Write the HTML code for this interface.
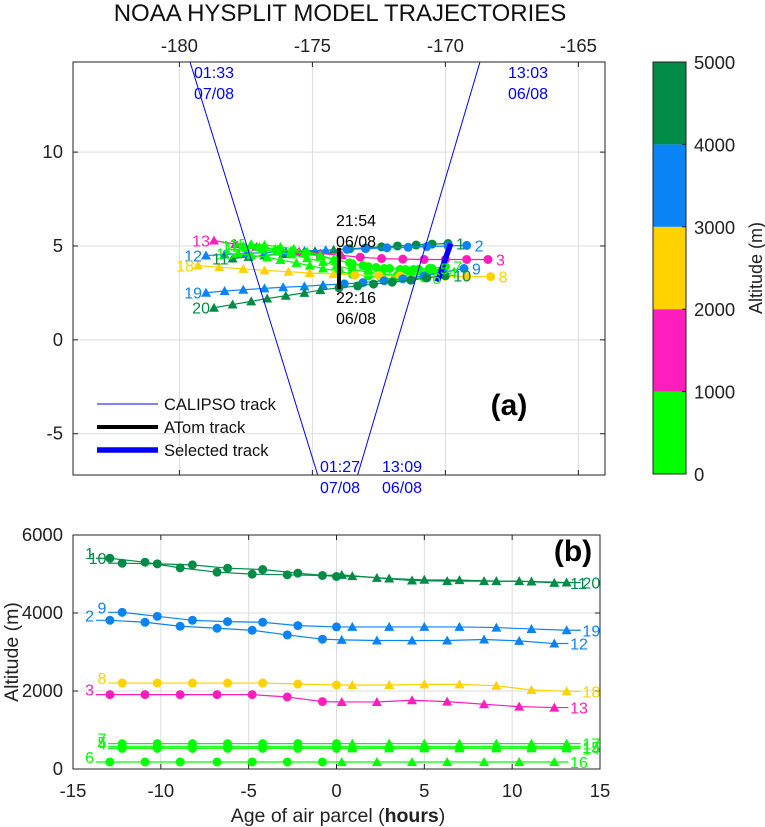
<!DOCTYPE html>
<html><head><meta charset="utf-8"><style>
html,body{margin:0;padding:0;background:#fff;}
svg{display:block;font-family:"Liberation Sans",Arial,sans-serif;}
</style></head><body>
<svg id="fig" width="765" height="827" viewBox="0 0 765 827" xmlns="http://www.w3.org/2000/svg">
<text x="340" y="21" font-size="24" text-anchor="middle" fill="#111">NOAA HYSPLIT MODEL TRAJECTORIES</text>
<g id="pa"></g>
<g id="pb"></g>
<g id="cb"></g>
</svg>
<script>
// ---------- data ----------
const lonTicks = [-180, -175, -170, -165];
const latTicks = [10, 5, 0, -5];
const altBands = [0, 1000, 2000, 3000, 4000, 5000];
const bandColors = ["#00ff00", "#ff1dbe", "#ffd200", "#0a84f5", "#008c46"];
const calipsoLeftLon = [-179.6, -174.8];
const calipsoLeftLat = [14.8, -7.2];
const calipsoRightLon = [-168.7, -173.3];
const calipsoRightLat = [14.8, -7.2];
const atomLon = [-174.0, -174.0];
const atomLat = [4.9, 2.7];
const selLon = [-169.8, -170.3];
const selLat = [5.13, 3.1];
const trajIds = [1, 2, 3, 4, 5, 6, 7, 8, 9, 10];
const trajColors = ["#008c46", "#0a84f5", "#ff1dbe", "#00ff00", "#00ff00", "#00ff00", "#00ff00", "#ffd200", "#0a84f5", "#008c46"];
const lon1 = [-169.9,-170.5,-171.1,-171.8,-172.4,-173.0,-173.6,-174.2,-174.9,-175.5,-176.1,-176.8,-177.4,-178.0];
const lat1 = [5.13,5.1,5.05,5.0,4.95,4.9,4.85,4.8,4.72,4.65,4.57,4.5,4.42,4.33];
const lon2 = [-169.2,-169.9,-170.7,-171.4,-172.2,-173.0,-173.7,-174.5,-175.3,-176.0,-176.8,-177.5,-178.3,-179.0];
const lat2 = [5.03,5.0,4.97,4.93,4.9,4.86,4.82,4.78,4.74,4.7,4.65,4.6,4.55,4.49];
const lon3 = [-168.4,-169.2,-170.0,-170.8,-171.6,-172.4,-173.2,-173.9,-174.7,-175.5,-176.3,-177.1,-177.9,-178.7];
const lat3 = [4.28,4.28,4.28,4.28,4.3,4.33,4.4,4.5,4.6,4.7,4.8,4.95,5.1,5.29];
const lon4 = [-170.2,-170.7,-171.3,-171.8,-172.4,-172.9,-173.5,-174.1,-174.6,-175.2,-175.8,-176.3,-176.9,-177.5];
const lat4 = [3.6,3.5,3.45,3.45,3.5,3.6,3.75,3.95,4.15,4.35,4.55,4.7,4.8,4.9];
const lon5 = [-170.5,-171.0,-171.5,-172.1,-172.6,-173.1,-173.6,-174.2,-174.7,-175.2,-175.7,-176.2,-176.8,-177.3];
const lat5 = [3.8,3.75,3.75,3.8,3.85,3.95,4.1,4.3,4.5,4.7,4.85,4.95,5.05,5.1];
const lon6 = [-170.8,-171.3,-171.9,-172.4,-172.9,-173.5,-174.0,-174.6,-175.1,-175.6,-176.2,-176.7,-177.3,-177.8];
const lat6 = [3.3,3.25,3.25,3.3,3.4,3.5,3.65,3.8,3.95,4.1,4.25,4.4,4.5,4.6];
const lon7 = [-170.0,-170.6,-171.2,-171.7,-172.3,-172.9,-173.5,-174.1,-174.7,-175.3,-175.8,-176.4,-177.0,-177.6];
const lat7 = [3.9,3.8,3.75,3.75,3.8,3.9,4.05,4.25,4.45,4.6,4.75,4.85,4.95,5.0];
const lon8 = [-168.3,-169.2,-170.0,-170.8,-171.7,-172.5,-173.4,-174.2,-175.1,-175.9,-176.8,-177.6,-178.5,-179.3];
const lat8 = [3.37,3.37,3.38,3.39,3.4,3.42,3.45,3.5,3.56,3.63,3.7,3.78,3.87,3.96];
const lon9 = [-169.3,-170.1,-170.8,-171.6,-172.3,-173.1,-173.8,-174.6,-175.3,-176.1,-176.8,-177.6,-178.3,-179.0];
const lat9 = [3.8,3.6,3.4,3.25,3.15,3.05,2.98,2.92,2.85,2.8,2.74,2.67,2.6,2.51];
const lon10 = [-170.0,-170.7,-171.3,-172.0,-172.7,-173.3,-174.0,-174.7,-175.3,-176.0,-176.7,-177.3,-178.0,-178.7];
const lat10 = [3.42,3.3,3.18,3.07,2.97,2.87,2.77,2.65,2.5,2.35,2.2,2.05,1.88,1.71];
// panel b
const ageTicks = [-15, -10, -5, 0, 5, 10, 15];
const altTicks = [0, 2000, 4000, 6000];
const agesA = [-12.9,-10.9,-8.9,-6.8,-4.8,-2.8,-0.8,0.3,2.3,4.3,6.3,8.4,10.4,12.4];
const agesB = [-12.2,-10.2,-8.2,-6.2,-4.2,-2.2,0.0,0.9,3.0,5.0,7.0,9.1,11.1,13.1];
const alt1 = [5404,5302,5157,5047,4996,4979,4962,4979,4902,4834,4817,4817,4817,4774];
const alt2 = [3813,3762,3660,3609,3557,3438,3328,3311,3294,3294,3294,3320,3285,3217];
const alt3 = [1907,1907,1907,1907,1907,1847,1728,1719,1719,1762,1728,1660,1600,1575];
const alt4 = [530,530,530,530,530,530,530,530,530,530,530,530,530,530];
const alt5 = [570,570,570,570,570,570,570,570,570,570,570,570,570,570];
const alt6 = [180,180,180,180,180,180,180,180,180,180,180,180,180,180];
const alt7 = [650,650,650,650,650,650,650,650,650,650,650,650,650,650];
const alt8 = [2204,2204,2204,2204,2204,2179,2153,2153,2153,2170,2170,2136,2026,1992];
const alt9 = [4017,3915,3813,3779,3762,3677,3643,3643,3643,3643,3643,3626,3591,3557];
const alt10 = [5277,5260,5234,5149,5115,5021,4936,4945,4885,4851,4843,4817,4808,4783];
const trajLons = [lon1,lon2,lon3,lon4,lon5,lon6,lon7,lon8,lon9,lon10];
const trajLats = [lat1,lat2,lat3,lat4,lat5,lat6,lat7,lat8,lat9,lat10];
const trajAlts = [alt1,alt2,alt3,alt4,alt5,alt6,alt7,alt8,alt9,alt10];
const trajAges = [agesA,agesA,agesA,agesB,agesB,agesA,agesB,agesB,agesB,agesB];

// ---------- helpers ----------
const NS = "http://www.w3.org/2000/svg";
function mk(parent, tag, attrs, txt) {
  const e = document.createElementNS(NS, tag);
  for (const k in attrs) e.setAttribute(k, attrs[k]);
  if (txt !== undefined) e.textContent = txt;
  parent.appendChild(e);
  return e;
}
const A = {x0:73, x1:605, y0:62, y1:475, lon0:-184, lon1:-164, lat0:-7.2, lat1:14.8};
const ax = lon => A.x0 + (lon - A.lon0) / (A.lon1 - A.lon0) * (A.x1 - A.x0);
const ay = lat => A.y1 - (lat - A.lat0) / (A.lat1 - A.lat0) * (A.y1 - A.y0);
const B = {x0:73, x1:600, y0:535, y1:769, a0:-15, a1:15, h0:0, h1:6000};
const bx = a => B.x0 + (a - B.a0) / (B.a1 - B.a0) * (B.x1 - B.x0);
const by = h => B.y1 - (h - B.h0) / (B.h1 - B.h0) * (B.y1 - B.y0);

function marker(g, x, y, tri, color) {
  let e;
  if (tri) {
    e = mk(g, "polygon", {points:`${x},${y-5} ${x-5},${y+4} ${x+5},${y+4}`, fill:color});
  } else {
    e = mk(g, "circle", {cx:x, cy:y, r:4.5, fill:color});
  }
  
  
}

// ---------- panel a ----------
const pa = document.getElementById("pa");
mk(pa, "rect", {x:A.x0, y:A.y0, width:A.x1-A.x0, height:A.y1-A.y0, fill:"#fff"});
lonTicks.forEach(v => {
  const x = ax(v);
  const gl = mk(pa, "line", {x1:x, x2:x, y1:A.y0, y2:A.y1, stroke:"#dcdcdc", "stroke-width":1});
  
  
  mk(pa, "line", {x1:x, x2:x, y1:A.y0, y2:A.y0+5, stroke:"#222"});
  mk(pa, "line", {x1:x, x2:x, y1:A.y1, y2:A.y1-5, stroke:"#222"});
  const t = mk(pa, "text", {x:x, y:52, "font-size":18.5, "text-anchor":"middle", fill:"#222"}, String(v));
  
  
});
latTicks.forEach(v => {
  const y = ay(v);
  const gl = mk(pa, "line", {x1:A.x0, x2:A.x1, y1:y, y2:y, stroke:"#dcdcdc", "stroke-width":1});
  
  
  mk(pa, "line", {x1:A.x0, x2:A.x0+5, y1:y, y2:y, stroke:"#222"});
  mk(pa, "line", {x1:A.x1, x2:A.x1-5, y1:y, y2:y, stroke:"#222"});
  const t = mk(pa, "text", {x:63, y:y+6, "font-size":18.5, "text-anchor":"end", fill:"#222"}, String(v));
  
  
});
const defs = mk(pa, "defs", {});
const cp = mk(defs, "clipPath", {id:"clipA"});
mk(cp, "rect", {x:A.x0, y:A.y0, width:A.x1-A.x0, height:A.y1-A.y0});
const ca = mk(pa, "g", {"clip-path":"url(#clipA)"});
trajIds.forEach((id, i) => {
  const g = mk(ca, "g", {});
  
  
  const lo = trajLons[i], la = trajLats[i], ag = trajAges[i];
  const pts = lo.map((v, k) => ax(v) + "," + ay(la[k])).join(" ");
  mk(g, "polyline", {points:pts, fill:"none", stroke:trajColors[i], "stroke-width":1.2});
  lo.forEach((v, k) => marker(g, ax(v), ay(la[k]), ag[k] > 0.1, trajColors[i]));
});
[[calipsoLeftLon, calipsoLeftLat], [calipsoRightLon, calipsoRightLat]].forEach(([lo, la]) => {
  const l = mk(ca, "line", {x1:ax(lo[0]), y1:ay(la[0]), x2:ax(lo[1]), y2:ay(la[1]), stroke:"#0000ff", "stroke-width":1});
  
  
});
const atom = mk(ca, "line", {x1:ax(atomLon[0]), y1:ay(atomLat[0]), x2:ax(atomLon[1]), y2:ay(atomLat[1]), stroke:"#000", "stroke-width":4});


const sel = mk(ca, "line", {x1:ax(selLon[0]), y1:ay(selLat[0]), x2:ax(selLon[1]), y2:ay(selLat[1]), stroke:"#0000ff", "stroke-width":5.5});


trajIds.forEach((id, i) => {
  const lo = trajLons[i], la = trajLats[i], n = lo.length - 1;
  const s = mk(pa, "text", {x:ax(lo[0]) + 8, y:ay(la[0]) + 6, "font-size":16, fill:trajColors[i]}, String(id));
  
  
  const e = mk(pa, "text", {x:ax(lo[n]) - 4, y:ay(la[n]) + 6, "font-size":16, fill:trajColors[i], "text-anchor":"end"}, String(id + 10));
  
  
});
const ann = [["01:33","07/08",194,78],["13:03","06/08",508,78],["01:27","07/08",320,472],["13:09","06/08",382,472]];
ann.forEach(a => {
  const t = mk(pa, "text", {x:a[2], y:a[3], "font-size":16, fill:"#0000ff"}, a[0]);
  
  
  const d = mk(pa, "text", {x:a[2], y:a[3]+21, "font-size":16, fill:"#0000ff"}, a[1]);
  
  
});
[["21:54","06/08",336,226],["22:16","06/08",336,303]].forEach(a => {
  const t = mk(pa, "text", {x:a[2], y:a[3], "font-size":16, fill:"#000"}, a[0]);
  
  
  const d = mk(pa, "text", {x:a[2], y:a[3]+21, "font-size":16, fill:"#000"}, a[1]);
  
  
});
mk(pa, "rect", {x:A.x0, y:A.y0, width:A.x1-A.x0, height:A.y1-A.y0, fill:"none", stroke:"#222", "stroke-width":1});
const lg = mk(pa, "g", {});


[["CALIPSO track", "#0000ff", 1, 404], ["ATom track", "#000", 4, 427], ["Selected track", "#0000ff", 5.5, 450]].forEach(l => {
  const g = mk(lg, "g", {});
  
  
  mk(g, "line", {x1:97, x2:158, y1:l[3], y2:l[3], stroke:l[1], "stroke-width":l[2]});
  mk(g, "text", {x:164, y:l[3]+6, "font-size":16.5, fill:"#111"}, l[0]);
});
const la_ = mk(pa, "text", {x:509, y:415, "font-size":30, "font-weight":"bold", "text-anchor":"middle", fill:"#000"}, "(a)");



// ---------- colorbar ----------
const cb = document.getElementById("cb");
const C = {x0:653, x1:686, y0:62, y1:474};
const cy = h => C.y1 - (h - altBands[0]) / (altBands[altBands.length-1] - altBands[0]) * (C.y1 - C.y0);
bandColors.forEach((c, i) => {
  const r = mk(cb, "rect", {x:C.x0, y:cy(altBands[i+1]), width:C.x1-C.x0, height:cy(altBands[i]) - cy(altBands[i+1]), fill:c});
  
  
});
mk(cb, "rect", {x:C.x0, y:C.y0, width:C.x1-C.x0, height:C.y1-C.y0, fill:"none", stroke:"#222"});
altBands.forEach(v => {
  mk(cb, "line", {x1:C.x1-4, x2:C.x1, y1:cy(v), y2:cy(v), stroke:"#222"});
  const t = mk(cb, "text", {x:694, y:cy(v)+7, "font-size":18.5, fill:"#222"}, String(v));
  
  
});
const cbt = mk(cb, "text", {x:0, y:0, "font-size":18, "text-anchor":"middle", fill:"#222", transform:"translate(762,268) rotate(-90)"}, "Altitude (m)");



// ---------- panel b ----------
const pb = document.getElementById("pb");
ageTicks.forEach(v => {
  const x = bx(v);
  const gl = mk(pb, "line", {x1:x, x2:x, y1:B.y0, y2:B.y1, stroke:"#dcdcdc"});
  
  
  mk(pb, "line", {x1:x, x2:x, y1:B.y1, y2:B.y1-5, stroke:"#222"});
  mk(pb, "line", {x1:x, x2:x, y1:B.y0, y2:B.y0+5, stroke:"#222"});
  const t = mk(pb, "text", {x:x, y:797, "font-size":18.5, "text-anchor":"middle", fill:"#222"}, String(v));
  
  
});
altTicks.forEach(v => {
  const y = by(v);
  const gl = mk(pb, "line", {x1:B.x0, x2:B.x1, y1:y, y2:y, stroke:"#dcdcdc"});
  
  
  mk(pb, "line", {x1:B.x0, x2:B.x0+5, y1:y, y2:y, stroke:"#222"});
  mk(pb, "line", {x1:B.x1, x2:B.x1-5, y1:y, y2:y, stroke:"#222"});
  const t = mk(pb, "text", {x:63, y:y+6, "font-size":18.5, "text-anchor":"end", fill:"#222"}, String(v));
  
  
});
trajIds.forEach((id, i) => {
  const g = mk(pb, "g", {});
  
  
  const ag = trajAges[i], al = trajAlts[i], n = ag.length - 1;
  const pts = [bx(ag[0]-0.8) + "," + by(al[0])].concat(ag.map((a, k) => bx(a) + "," + by(al[k]))).concat([bx(ag[n]+0.8) + "," + by(al[n])]).join(" ");
  mk(g, "polyline", {points:pts, fill:"none", stroke:trajColors[i], "stroke-width":1.2});
  ag.forEach((a, k) => marker(g, bx(a), by(al[k]), a > 0.1, trajColors[i]));
  const s = mk(pb, "text", {x:bx(ag[0]-0.9), y:by(al[0])+1, "font-size":16, fill:trajColors[i], "text-anchor":"end"}, String(id));
  
  
  const e = mk(pb, "text", {x:bx(ag[n]+0.9), y:by(al[n])+6, "font-size":16, fill:trajColors[i]}, String(id + 10));
  
  
});
mk(pb, "rect", {x:B.x0, y:B.y0, width:B.x1-B.x0, height:B.y1-B.y0, fill:"none", stroke:"#222"});
const lb = mk(pb, "text", {x:573, y:561, "font-size":30, "font-weight":"bold", "text-anchor":"middle", fill:"#000"}, "(b)");


const xl = mk(pb, "text", {x:338, y:822, "font-size":19.5, "text-anchor":"middle", fill:"#222"});


mk(xl, "tspan", {}, "Age of air parcel (");
mk(xl, "tspan", {"font-weight":"bold"}, "hours");
mk(xl, "tspan", {}, ")");
const yl = mk(pb, "text", {x:0, y:0, "font-size":19.5, "text-anchor":"middle", fill:"#222", transform:"translate(18,652) rotate(-90)"}, "Altitude (m)");


</script>
</body></html>
